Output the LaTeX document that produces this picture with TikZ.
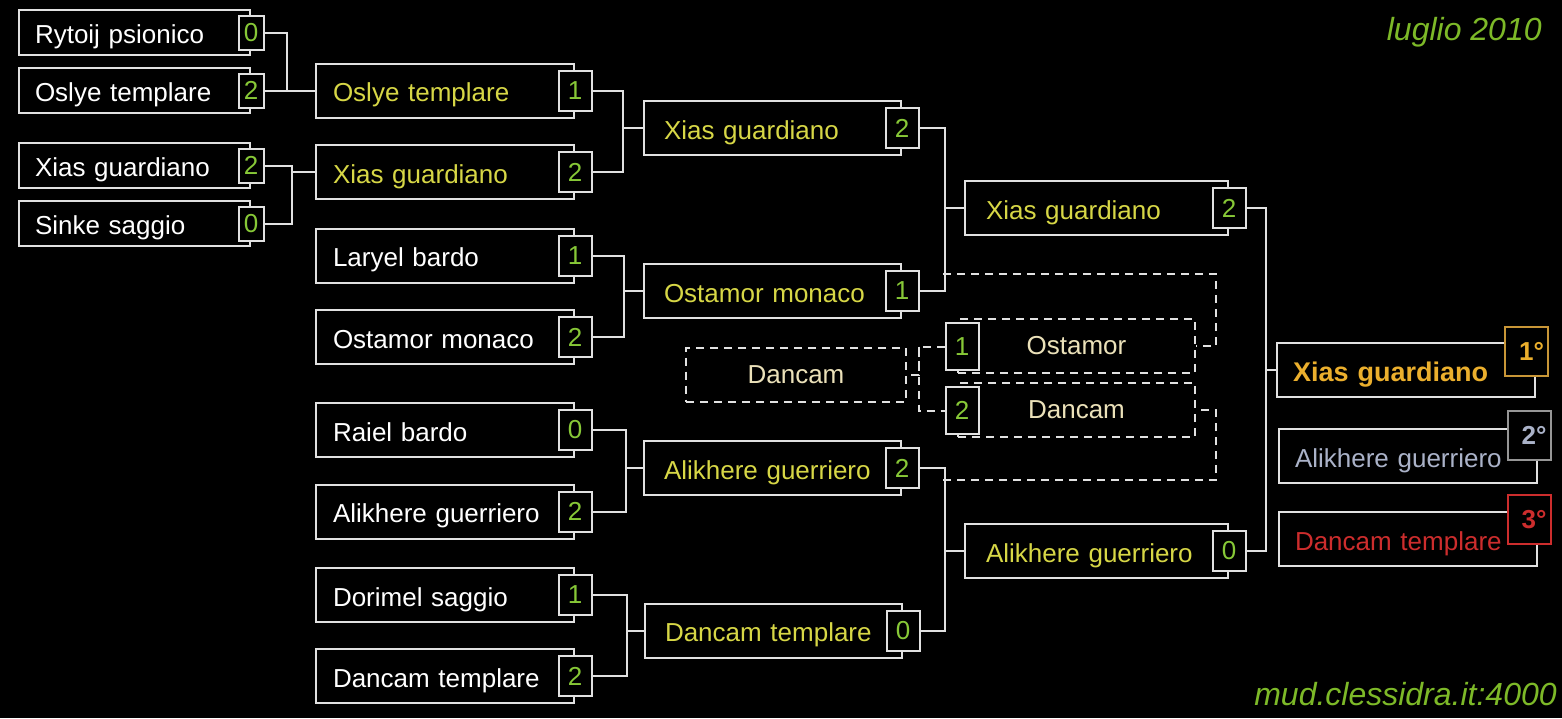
\documentclass[tikz,border=0pt]{standalone}
\usepackage{fontspec}
\setmainfont{Liberation Sans}

\definecolor{linegray}{RGB}{225,225,225}
\definecolor{winyellow}{RGB}{215,215,70}
\definecolor{scoregreen}{RGB}{135,200,55}
\definecolor{creamtext}{RGB}{235,225,185}
\definecolor{titlegreen}{RGB}{125,185,40}
\definecolor{gold}{RGB}{235,175,45}
\definecolor{golddark}{RGB}{200,150,55}
\definecolor{silver}{RGB}{170,178,200}
\definecolor{silverbox}{RGB}{150,150,150}
\definecolor{thirdred}{RGB}{205,45,45}

\tikzset{
    box/.style={draw=linegray, fill=black, rectangle, text=white, inner ysep=0pt,
        align=left, text height=25pt, text depth=3pt, font=\fontsize{26}{30}\selectfont},
    r1box/.style={box, inner xsep=16pt, text width=199pt, minimum height=45pt},
    r2box/.style={box, inner xsep=17pt, text width=224pt, minimum height=54pt},
    r3box/.style={box, inner xsep=20pt, text width=217pt, minimum height=54pt},
    r4box/.style={box, inner xsep=21pt, text width=221pt, minimum height=54pt},
    finbox/.style={box, inner xsep=16pt, text width=226pt, minimum height=54pt},
    score/.style={draw=linegray, fill=black, text=scoregreen, inner sep=0pt,
        minimum width=33pt, minimum height=40pt, font=\fontsize{26}{30}\selectfont},
    r1score/.style={score, minimum width=25pt, minimum height=34pt},
    medal/.style={draw=#1, fill=black, text=#1, inner xsep=4pt, inner ysep=0pt,
        text width=35pt, align=right, minimum height=49pt,
        font=\fontsize{26}{30}\selectfont\bfseries},
    dbox/.style={draw=linegray, dash pattern=on 8pt off 6pt, text=creamtext,
        minimum height=54pt, font=\fontsize{26}{30}\selectfont},
    dline/.style={dash pattern=on 8pt off 6pt},
    wintext/.style={text=winyellow}
}

\begin{document}
\begin{tikzpicture}[x=1pt, y=-1pt, line width=2pt, draw=linegray]
        \fill[black] (0,0) rectangle (1562,718);
        \useasboundingbox (0,0) rectangle (1562,718);

        % 第一轮
        \node[r1box] (r1a) at (134.5,32.5) {Rytoij psionico};
        \node[r1score] (r1a-s) at (r1a.east) {0};
        \node[r1box] (r1b) at (134.5,90.5) {Oslye templare};
        \node[r1score] (r1b-s) at (r1b.east) {2};
        \node[r1box] (r1c) at (134.5,165.5) {Xias guardiano};
        \node[r1score] (r1c-s) at (r1c.east) {2};
        \node[r1box] (r1d) at (134.5,223.5) {Sinke saggio};
        \node[r1score] (r1d-s) at (r1d.east) {0};

        % 第二轮
        \node[r2box, wintext] (r2a) at (445,90.5) {Oslye templare};
        \node[score] (r2a-s) at (r2a.east) {1};
        \node[r2box, wintext] (r2b) at (445,172) {Xias guardiano};
        \node[score] (r2b-s) at (r2b.east) {2};
        \node[r2box] (r2c) at (445,255.5) {Laryel bardo};
        \node[score] (r2c-s) at (r2c.east) {1};
        \node[r2box] (r2d) at (445,337) {Ostamor monaco};
        \node[score] (r2d-s) at (r2d.east) {2};
        \node[r2box] (r2e) at (445,430) {Raiel bardo};
        \node[score] (r2e-s) at (r2e.east) {0};
        \node[r2box] (r2f) at (445,511.5) {Alikhere guerriero};
        \node[score] (r2f-s) at (r2f.east) {2};
        \node[r2box] (r2g) at (445,595) {Dorimel saggio};
        \node[score] (r2g-s) at (r2g.east) {1};
        \node[r2box] (r2h) at (445,676) {Dancam templare};
        \node[score] (r2h-s) at (r2h.east) {2};

        % 第三轮
        \node[r3box, wintext] (r3a) at (772.5,128) {Xias guardiano};
        \node[score] (r3a-s) at (r3a.east) {2};
        \node[r3box, wintext] (r3b) at (772.5,291) {Ostamor monaco};
        \node[score] (r3b-s) at (r3b.east) {1};
        \node[r3box, wintext] (r3c) at (772.5,468) {Alikhere guerriero};
        \node[score] (r3c-s) at (r3c.east) {2};
        \node[r3box, wintext] (r3d) at (773.5,630.5) {Dancam templare};
        \node[score] (r3d-s) at (r3d.east) {0};

        % 半决赛
        \node[r4box, wintext] (r4a) at (1096.5,208) {Xias guardiano};
        \node[score] (r4a-s) at (r4a.east) {2};
        \node[r4box, wintext] (r4b) at (1096.5,551) {Alikhere guerriero};
        \node[score] (r4b-s) at (r4b.east) {0};

        % 三四名
        \node[dbox, minimum width=220pt] (tpw) at (796,374.5) {Dancam};
        \node[dbox, minimum width=237pt] (tpa) at (1076.5,346) {Ostamor};
        \node[dbox, minimum width=237pt] (tpb) at (1076.5,410) {Dancam};
        \node[score, minimum height=47pt] (tpa-s) at (962,346.5) {1};
        \node[score, minimum height=47pt] (tpb-s) at (962,410.5) {2};

        % 名次
        \node[finbox, text=gold, font=\fontsize{27}{30}\selectfont\bfseries] (fin1) at (1406,370) {Xias guardiano};
        \node[medal=gold, draw=golddark] (fin1-m) at (1526.5,351.5) {1°};
        \node[finbox, text=silver] (fin2) at (1408,456) {Alikhere guerriero};
        \node[medal=silver, draw=silverbox] (fin2-m) at (1529,435) {2°};
        \node[finbox, text=thirdred] (fin3) at (1408,539) {Dancam templare};
        \node[medal=thirdred] (fin3-m) at (1529,519.5) {3°};

        % 连线
        \draw (r1a-s.east) -- ++(22,0) |- (r1b-s.east);
        \draw (r1b-s.east) -- (r2a.west);
        \draw (r1c-s.east) -- ++(27,0) |- (r1d-s.east);
        \draw (r1c-s.east) ++(27,0) |- (r2b.west);

        \draw (r2a-s.east) -- ++(30,0) |- (r2b-s.east);
        \draw (r2a-s.east) ++(30,0) |- (r3a.west);
        \draw (r2c-s.east) -- ++(31,0) |- (r2d-s.east);
        \draw (r2c-s.east) ++(31,0) |- (r3b.west);
        \draw (r2e-s.east) -- ++(33,0) |- (r2f-s.east);
        \draw (r2e-s.east) ++(33,0) |- (r3c.west);
        \draw (r2g-s.east) -- ++(34,0) |- (r2h-s.east);
        \draw (r2g-s.east) ++(34,0) |- (r3d.west);

        \draw (r3a-s.east) -- ++(25.5,0) |- (r3b-s.east);
        \draw (r3a-s.east) ++(25.5,0) |- (r4a.west);
        \draw (r3c-s.east) -- ++(25.5,0) |- (r3d-s.east);
        \draw (r3c-s.east) ++(25.5,0) |- (r4b.west);

        \draw (r4a-s.east) -- ++(19.5,0) |- (r4b-s.east);
        \draw (r4a-s.east) ++(19.5,0) |- (fin1.west);

        % 虚线
        \coordinate (dtop) at (943,274);
        \coordinate (dbot) at (943,480);
        \draw[dline] (dtop) -- ++(273,0) |- (tpa.east);
        \draw[dline] (dbot) -- ++(273,0) |- (tpb.east);
        \draw[dline] (tpa-s.west) -- ++(-26,0) |- (tpb-s.west);
        \draw[dline] (tpa-s.west) ++(-26,0) |- (tpw.east);

        \node[anchor=east, text=titlegreen, font=\fontsize{32}{38}\selectfont\itshape] (date) at (1546,32) {luglio 2010};
        \node[anchor=east, text=titlegreen, font=\fontsize{32}{38}\selectfont\itshape] (site) at (1561,694) {mud.clessidra.it:4000};
    \end{tikzpicture}
\end{document}
